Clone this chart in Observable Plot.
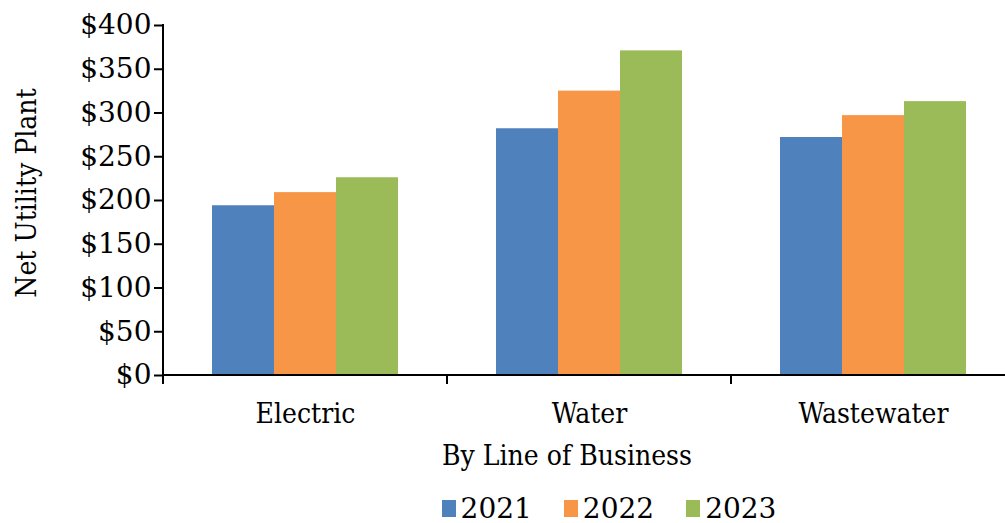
<!DOCTYPE html>
<html>
<head>
<meta charset="utf-8">
<script src="https://cdn.jsdelivr.net/npm/d3@7"></script>
<script src="https://cdn.jsdelivr.net/npm/@observablehq/plot@0.6"></script>
<style>
  html, body { margin: 0; padding: 0; background: #fff; }
  body { width: 1005px; height: 523px; font-family: "DejaVu Serif Condensed", "DejaVu Serif", serif; }
  #chart { height: 485px; }
  #chart svg { display: block; }
  #legend { display: flex; justify-content: center; align-items: center; padding-left: 213px; padding-top: 9px; height: 29px; font-size: 28px; line-height: 28px; color: #000; font-family: "DejaVu Serif", serif; }
  .item { display: flex; align-items: center; margin: 0 16px; }
  .sw { width: 14px; height: 17px; margin-right: 5px; }
</style>
</head>
<body>
<div id="chart"></div>
<div id="legend"></div>
<script>
const categories = ["Electric", "Water", "Wastewater"];
const years = ["2021", "2022", "2023"];
const colors = ["#4F81BD", "#F79646", "#9BBB59"];
const values2021 = [194, 282, 272];
const values2022 = [209, 325, 297];
const values2023 = [226, 371, 313];
const yTicks = [0, 50, 100, 150, 200, 250, 300, 350, 400];

const series = [values2021, values2022, values2023];
const data = [];
categories.forEach((c, i) => years.forEach((y, j) => data.push({cat: c, year: y, value: series[j][i]})));

const FONT = '"DejaVu Serif Condensed", "DejaVu Serif", serif';
const NUMFONT = '"DejaVu Serif", serif';
const plot = Plot.plot({
  width: 1005,
  height: 485,
  marginLeft: 162,
  marginRight: -10,
  marginTop: 25,
  marginBottom: 110,
  style: { fontFamily: FONT, fontSize: "28px", color: "#000", background: "#fff", overflow: "visible" },
  fx: { domain: categories, padding: 0 },
  x: { domain: years, paddingInner: 0, paddingOuter: 0.758, axis: null },
  y: { domain: [0, 400] },
  color: { domain: years, range: colors },
  marks: [
    Plot.barY(data, { fx: "cat", x: "year", y: "value", fill: "year" }),
    Plot.axisY({ ticks: yTicks, tickFormat: d => "$" + d, tickSize: 9, tickPadding: 3, label: null, fontSize: 28, strokeWidth: 2 }),
    Plot.axisFx({ anchor: "bottom", tickSize: 0, tickPadding: 28, label: null, fontSize: 28 })
  ]
});
document.getElementById("chart").appendChild(plot);

// axis lines, category boundary ticks and axis titles, positioned by the plot's own scales
const fx = plot.scale("fx");
const ys = plot.scale("y");
const svg = d3.select(plot);
const y0 = ys.apply(0), yTop = ys.apply(400);
const left = fx.apply(categories[0]);
const right = fx.apply(categories[categories.length - 1]) + fx.bandwidth;
svg.append("line").attr("x1", left - 1).attr("x2", right).attr("y1", y0).attr("y2", y0)
  .attr("stroke", "#000").attr("stroke-width", 2);
svg.append("line").attr("x1", left).attr("x2", left).attr("y1", y0 + 1).attr("y2", yTop - 1)
  .attr("stroke", "#000").attr("stroke-width", 2);
categories.forEach(c => {
  const bx = fx.apply(c);
  svg.append("line").attr("x1", bx).attr("x2", bx).attr("y1", y0).attr("y2", y0 + 9)
    .attr("stroke", "#000").attr("stroke-width", 2);
});

// wider numeric face for the y tick labels
svg.selectAll("g[aria-label='y-axis tick label'] text").attr("font-family", NUMFONT);

// axis titles
svg.append("text").text("Net Utility Plant")
  .attr("transform", `translate(36,${(y0 + yTop) / 2 - 7}) rotate(-90)`)
  .attr("text-anchor", "middle").attr("font-size", 28).attr("font-family", FONT).attr("fill", "#000");
svg.append("text").text("By Line of Business")
  .attr("x", (left + right) / 2 - 22).attr("y", y0 + 90)
  .attr("text-anchor", "middle").attr("font-size", 28).attr("font-family", FONT).attr("fill", "#000");

const legend = document.getElementById("legend");
years.forEach((y, j) => {
  const item = document.createElement("div");
  item.className = "item";
  const sw = document.createElement("div");
  sw.className = "sw";
  sw.style.background = colors[j];
  const t = document.createElement("span");
  t.textContent = y;
  item.appendChild(sw); item.appendChild(t);
  legend.appendChild(item);
});
</script>
</body>
</html>
